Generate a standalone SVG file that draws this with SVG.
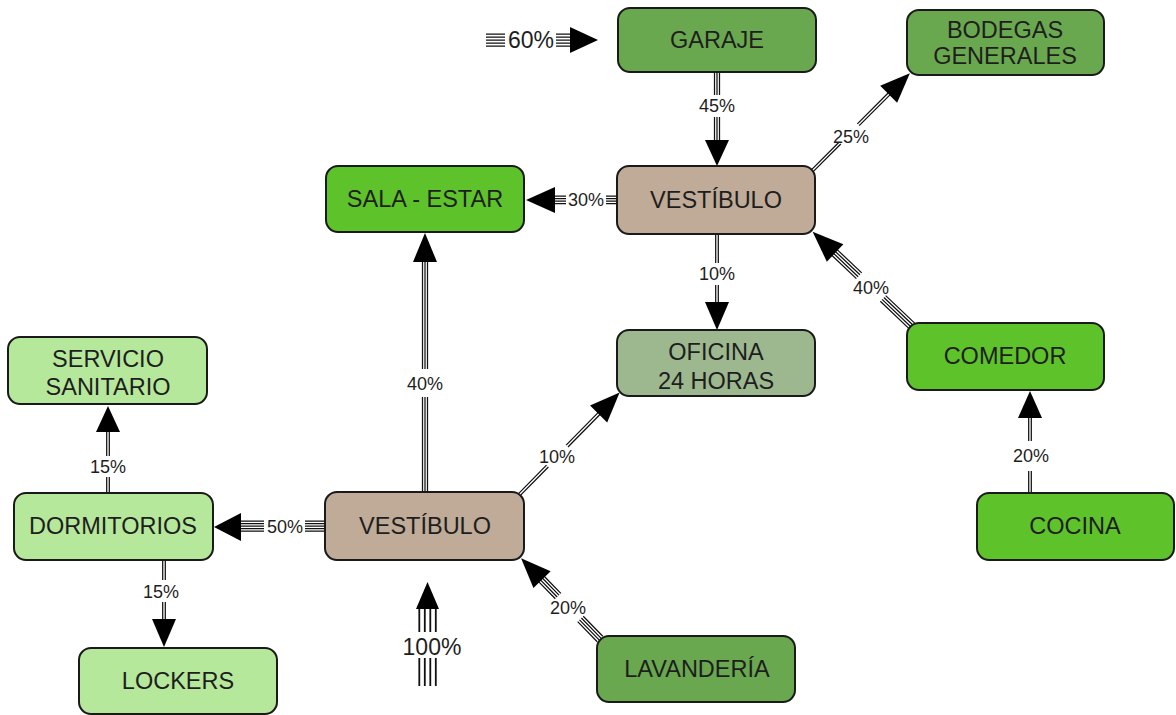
<svg xmlns="http://www.w3.org/2000/svg" width="1176" height="715" viewBox="0 0 1176 715">
<style>
.n{stroke:#1a1a1a;stroke-width:2}
.mg{fill:#6aa84f}.bg{fill:#5ec22a}.tan{fill:#bfab97}.og{fill:#9db88f}.lg{fill:#b6e89b}
.t{font-family:"Liberation Sans",Arial,sans-serif;font-size:23.5px;fill:#1e1e1e;text-anchor:middle}
.l{font-family:"Liberation Sans",Arial,sans-serif;font-size:18px;fill:#1e1e1e;text-anchor:middle}
.b{font-family:"Liberation Sans",Arial,sans-serif;font-size:23px;fill:#1e1e1e;text-anchor:middle}
.ln{stroke:#111;stroke-width:1.25;fill:none}
.ln2{stroke:#111;stroke-width:1.8;fill:none}
.h{fill:#000}
</style>
<rect width="1176" height="715" fill="#fff"/>
<g id="connectors">
<g id="c60">
<path class="ln" d="M486 34H505M486 37H505M486 40H505M486 43H505M486 46H505M556 34H572M556 37H572M556 40H572M556 43H572M556 46H572"/>
<polygon class="h" points="570,27 570,53 598,40"/>
<text class="b" x="531" y="48">60%</text>
</g>
<g id="c45">
<path class="ln" d="M714.5 72V95M717 72V95M719.5 72V95M714.5 117V141M717 117V141M719.5 117V141"/>
<polygon class="h" points="705,140 729,140 717,166"/>
<text class="l" x="717" y="112">45%</text>
</g>
<g id="c30">
<path class="ln" d="M553 196.2H566M553 198.7H566M553 201.2H566M553 203.7H566M606 196.2H617M606 198.7H617M606 201.2H617M606 203.7H617"/>
<polygon class="h" points="526,200 555,187 555,213"/>
<text class="l" x="586" y="206">30%</text>
</g>
<g id="c10a">
<path class="ln" d="M715.7 234V263M718.3 234V263M715.7 285V303M718.3 285V303"/>
<polygon class="h" points="705,302 729,302 717,330"/>
<text class="l" x="717" y="280">10%</text>
</g>
<g id="c25" transform="translate(813,170) rotate(-45)">
<path class="ln" d="M0 -1.3H38M0 1.3H38M64 -1.3H110M64 1.3H110"/>
<polygon class="h" points="137,0 107,-12 107,12"/>
</g>
<text class="l" x="851" y="143">25%</text>
<g id="c40b" transform="translate(912,326) rotate(-136.5)">
<path class="ln" d="M0 -3.9H40M0 -1.3H40M0 1.3H40M0 3.9H40M73 -3.9H108M73 -1.3H108M73 1.3H108M73 3.9H108"/>
<polygon class="h" points="137,0 106,-12 106,12"/>
</g>
<text class="l" x="871" y="294">40%</text>
<g id="c20a">
<path class="ln" d="M1028.7 417V441M1031.3 417V441M1028.7 471V493M1031.3 471V493"/>
<polygon class="h" points="1018,418 1042,418 1030,391"/>
<text class="l" x="1031" y="462">20%</text>
</g>
<g id="c40a">
<path class="ln" d="M422.5 261V369M425 261V369M427.5 261V369M422.5 397V492M425 397V492M427.5 397V492"/>
<polygon class="h" points="413,262 437,262 425,233"/>
<text class="l" x="425" y="390">40%</text>
</g>
<g id="c10b" transform="translate(518,496) rotate(-45.5)">
<path class="ln" d="M0 -1.3H42M0 1.3H42M70 -1.3H117M70 1.3H117"/>
<polygon class="h" points="145,0 115,-12 115,12"/>
</g>
<text class="l" x="557" y="463">10%</text>
<g id="c20b" transform="translate(600,639) rotate(-134.3)">
<path class="ln" d="M0 -3.9H28M0 -1.3H28M0 1.3H28M0 3.9H28M60 -3.9H85M60 -1.3H85M60 1.3H85M60 3.9H85"/>
<polygon class="h" points="113,0 83,-12 83,12"/>
</g>
<text class="l" x="568" y="614">20%</text>
<g id="c50">
<path class="ln" d="M238 521H264M238 523.5H264M238 526H264M238 528.5H264M238 531H264M305 521H325M305 523.5H325M305 526H325M305 528.5H325M305 531H325"/>
<polygon class="h" points="214,527 241,513 241,541"/>
<text class="l" x="285" y="533">50%</text>
</g>
<g id="c15a">
<path class="ln" d="M106.7 430V456M109.3 430V456M106.7 477V493M109.3 477V493"/>
<polygon class="h" points="96,432 120,432 108,406"/>
<text class="l" x="108" y="473">15%</text>
</g>
<g id="c15b">
<path class="ln" d="M162.7 560V580M165.3 560V580M162.7 602V620M165.3 602V620"/>
<polygon class="h" points="152,619 176,619 164,647"/>
<text class="l" x="161" y="598">15%</text>
</g>
<g id="c100">
<path class="ln2" d="M419.3 607V632M424.8 607V632M430.3 607V632M435.8 607V632M419.3 658V686M424.8 658V686M430.3 658V686M435.8 658V686"/>
<polygon class="h" points="416,609 439,609 427.5,582"/>
<text class="b" x="432" y="655">100%</text>
</g>
</g>
<g id="garaje"><rect class="n mg" x="618" y="8" width="198" height="64" rx="12"/><text class="t" x="717" y="48">GARAJE</text></g>
<g id="bodegas"><rect class="n mg" x="907" y="10" width="197" height="65" rx="12"/><text class="t" x="1005" y="38">BODEGAS</text><text class="t" x="1005" y="64">GENERALES</text></g>
<g id="sala"><rect class="n bg" x="326" y="166" width="198" height="66" rx="12"/><text class="t" x="425" y="207">SALA - ESTAR</text></g>
<g id="vestibulo1"><rect class="n tan" x="617" y="166" width="198" height="68" rx="12"/><text class="t" x="716" y="208">VESTÍBULO</text></g>
<g id="oficina"><rect class="n og" x="617" y="330" width="198" height="66" rx="12"/><text class="t" x="716" y="360">OFICINA</text><text class="t" x="716" y="389">24 HORAS</text></g>
<g id="comedor"><rect class="n bg" x="907" y="323" width="197" height="67" rx="12"/><text class="t" x="1005" y="364">COMEDOR</text></g>
<g id="cocina"><rect class="n bg" x="977" y="493" width="197" height="67" rx="12"/><text class="t" x="1075" y="534">COCINA</text></g>
<g id="servicio"><rect class="n lg" x="8" y="337" width="199" height="67" rx="12"/><text class="t" x="108" y="367">SERVICIO</text><text class="t" x="108" y="395">SANITARIO</text></g>
<g id="dormitorios"><rect class="n lg" x="14" y="493" width="199" height="67" rx="12"/><text class="t" x="113" y="534">DORMITORIOS</text></g>
<g id="vestibulo2"><rect class="n tan" x="325" y="492" width="199" height="68" rx="12"/><text class="t" x="425" y="534">VESTÍBULO</text></g>
<g id="lockers"><rect class="n lg" x="79" y="648" width="198" height="66" rx="12"/><text class="t" x="178" y="689">LOCKERS</text></g>
<g id="lavanderia"><rect class="n mg" x="597" y="636" width="198" height="66" rx="12"/><text class="t" x="697" y="677">LAVANDERÍA</text></g>
</svg>
